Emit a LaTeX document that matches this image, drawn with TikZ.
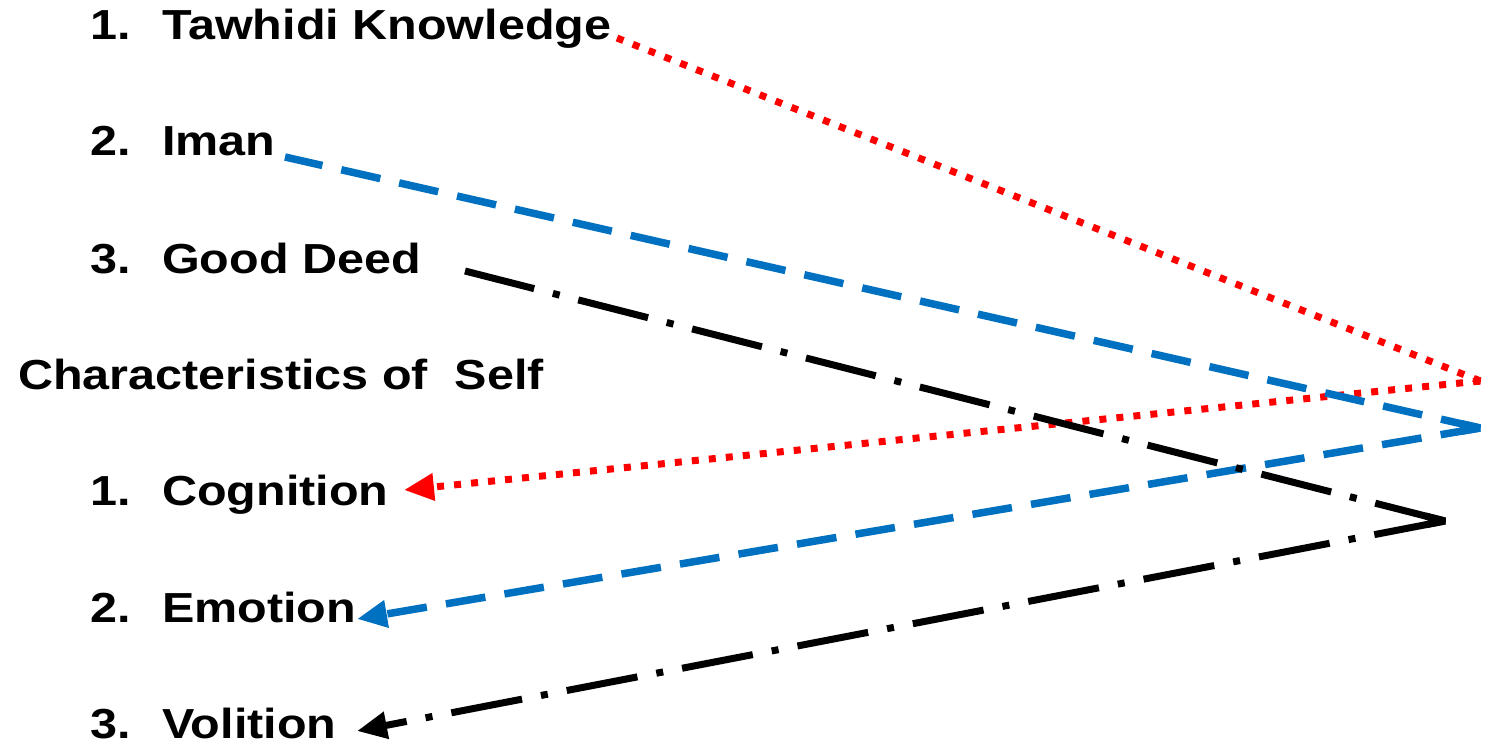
\documentclass[tikz,border=0pt]{standalone}
\usepackage{fontspec}
\setmainfont{Liberation Sans}[FakeStretch=1.155]
\usetikzlibrary{arrows.meta,calc}
\definecolor{rd}{RGB}{255,0,0}
\definecolor{bl}{RGB}{0,112,192}
\tikzset{
  lbl/.style={anchor=base west,inner sep=0pt,font=\fontsize{42}{48}\selectfont\bfseries},
  redln/.style={rd,line width=7pt,dash pattern=on 7pt off 10.07pt},
  blueln/.style={bl,line width=7.5pt,dash pattern=on 40pt off 19.35pt},
  blackln/.style={black,line width=7pt,dash pattern=on 72pt off 19.25pt on 7pt off 19.25pt},
  headin/.style={-{Triangle[length=30pt,width=26pt]}},
  cornerln/.style={solid,line width=7pt,line join=bevel}
}
\begin{document}
\begin{tikzpicture}[x=1pt,y=-1pt]
\useasboundingbox (0,0) rectangle (1491,746);
\node[lbl] (n1) at (90,40) {1.};
\node[lbl] (t1) at (162,40) {Tawhidi Knowledge};
\node[lbl] (n2) at (90,156) {2.};
\node[lbl] (t2) at (162,156) {Iman};
\node[lbl] (n3) at (90,273) {3.};
\node[lbl] (t3) at (162,273) {Good Deed};
\node[lbl] (hd) at (18,389) {Characteristics of \ Self};
\node[lbl] (m1) at (90,505) {1.};
\node[lbl] (s1) at (162,505) {Cognition};
\node[lbl] (m2) at (90,622) {2.};
\node[lbl] (s2) at (162,622) {Emotion};
\node[lbl] (m3) at (90,738) {3.};
\node[lbl] (s3) at (162,738) {Volition};
\coordinate (r0) at (617,38);
\coordinate (r1) at (1480,381);
\coordinate (r2) at (404,490);
\coordinate (b0) at (285,157);
\coordinate (b1) at (1480,428);
\coordinate (b2) at (357,619);
\coordinate (k0) at (465,271);
\coordinate (k1) at (1445,521);
\coordinate (k2) at (357,731);
% red
\draw[redln] (r1) -- (r0);
\draw[redln,headin] (r1) -- (r2);
\draw[rd,cornerln] ($(r1)!6pt!(r0)$) -- (r1) -- ($(r1)!6pt!(r2)$);
% blue
\draw[blueln] (b1) -- (b0);
\draw[blueln,headin] (b1) -- (b2);
\draw[bl,cornerln,line width=7.5pt] ($(b1)!20pt!(b0)$) -- (b1) -- ($(b1)!20pt!(b2)$);
% black
\draw[blackln] (k1) -- (k0);
\draw[blackln,headin] (k1) -- (k2);
\draw[black,cornerln] ($(k1)!20pt!(k0)$) -- (k1) -- ($(k1)!20pt!(k2)$);
\end{tikzpicture}
\end{document}
